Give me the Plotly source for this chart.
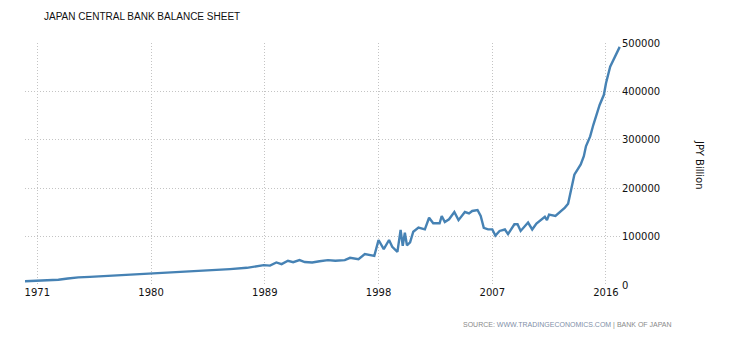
import plotly.graph_objects as go

dates = ["1970-01", "1970-07", "1971-01", "1971-07", "1972-01", "1972-09", "1973-06", "1974-04",
         "1975-03", "1976-01", "1977-01", "1977-11", "1979-01", "1980-01", "1981-01", "1982-05",
         "1983-09", "1985-01", "1986-04", "1987-08", "1988-06", "1988-12", "1989-06", "1989-12",
         "1990-05", "1990-11", "1991-04", "1991-10", "1992-03", "1992-10", "1993-05", "1994-01",
         "1994-08", "1995-05", "1995-10", "1996-06", "1996-12", "1997-04", "1997-09", "1998-01",
         "1998-06", "1998-11", "1999-02", "1999-07", "1999-10", "1999-12", "2000-02", "2000-04",
         "2000-07", "2000-10", "2001-03", "2001-09", "2002-01", "2002-05", "2002-11", "2003-01",
         "2003-04", "2003-08", "2004-01", "2004-05", "2004-11", "2005-03", "2005-06", "2005-11",
         "2006-02", "2006-05", "2006-09", "2007-01", "2007-04", "2007-08", "2008-01", "2008-04",
         "2008-10", "2009-01", "2009-04", "2009-11", "2010-03", "2010-07", "2010-11", "2011-03",
         "2011-05", "2011-07", "2012-01", "2012-05", "2012-10", "2013-01", "2013-03", "2013-05",
         "2013-07", "2014-01", "2014-04", "2014-06", "2014-10", "2015-01", "2015-04", "2015-07",
         "2015-11", "2016-01", "2016-05", "2016-10", "2017-02"]
values = [7600, 8000, 8800, 9300, 10200, 11000, 13500, 15800,
          16700, 17800, 19200, 20600, 22600, 24700, 25800, 27400,
          28600, 30200, 32800, 35500, 38000, 41000, 40000, 46600,
          43200, 50000, 47000, 51400, 47500, 46600, 49000, 51400,
          50000, 51400, 56200, 53500, 63800, 61700, 60300, 93000,
          74000, 93000, 79000, 68500, 113800, 81000, 108000, 82000,
          88000, 110000, 118700, 115000, 139000, 127500, 127500, 142600,
          130000, 135800, 150800, 134000, 150800, 148000, 152900, 155000,
          142600, 118000, 115000, 115000, 102000, 111700, 114700, 105000,
          125500, 125500, 111700, 129000, 114700, 127000, 135000, 141000,
          134000, 145400, 142600, 149500, 160000, 168000, 187000, 207800,
          228000, 249000, 266000, 286600, 307000, 331000, 352000, 372000,
          393000, 417000, 451000, 475000, 492000]

x_tick_years = ["1971", "1980", "1989", "1998", "2007", "2016"]
y_ticks = [0, 100000, 200000, 300000, 400000, 500000]

title_text = "JAPAN CENTRAL BANK BALANCE SHEET"
unit_text = "JPY Billion"
source_label = "SOURCE:"
source_site = "WWW.TRADINGECONOMICS.COM"
source_org = "| BANK OF JAPAN"

fig = go.Figure()
fig.add_trace(go.Scatter(x=dates, y=values, mode="lines",
                         line=dict(color="#4682b4", width=2.4), hoverinfo="skip"))

font_main = "DejaVu Sans, Liberation Sans, sans-serif"

fig.update_layout(
    width=730, height=340,
    margin=dict(l=25, r=109, t=43, b=55),
    paper_bgcolor="white", plot_bgcolor="white",
    showlegend=False,
    font=dict(family=font_main, size=10, color="#111"),
    xaxis=dict(
        range=["1970-01-10", "2017-03-10"],
        tickvals=[y + "-01-01" for y in x_tick_years],
        ticktext=x_tick_years,
        showgrid=True, gridcolor="#c4c4c4", griddash="1px,2px", gridwidth=1,
        zeroline=False, showline=False, ticks="",
        tickfont=dict(size=10, color="#111"),
    ),
    yaxis=dict(
        side="right", range=[0, 500000],
        tickvals=y_ticks, ticktext=[str(v) for v in y_ticks],
        showgrid=True, gridcolor="#c4c4c4", griddash="1px,2px", gridwidth=1,
        zeroline=False, showline=False, ticks="",
        tickfont=dict(size=10, color="#111"),
    ),
    annotations=[
        dict(text=title_text, xref="paper", yref="paper", x=17/596, y=1 + 26/242,
             xanchor="left", yanchor="middle", showarrow=False,
             font=dict(family="Liberation Sans, sans-serif", size=10, color="#111")),
        dict(text=unit_text, xref="paper", yref="paper", x=1 + 79/596, y=0.5,
             xanchor="center", yanchor="middle", showarrow=False, textangle=90,
             font=dict(family=font_main, size=10, color="#111")),
        dict(text=(f"<span style='color:#8a8a8a'>{source_label} </span>"
                   f"<span style='color:#7f8fa8'>{source_site}</span>"
                   f"<span style='color:#8a8a8a'> {source_org}</span>"),
             xref="paper", yref="paper", x=1 + 53/596, y=-40/242,
             xanchor="right", yanchor="middle", showarrow=False,
             font=dict(family="Liberation Sans, sans-serif", size=7, color="#888")),
    ],
)

fig.write_html("out.html")
